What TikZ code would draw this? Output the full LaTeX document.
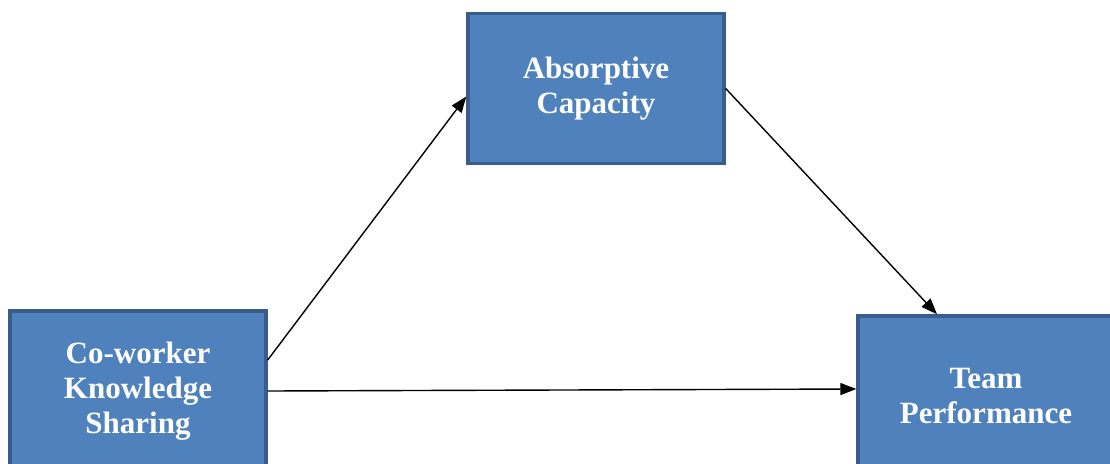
\documentclass[tikz,border=0pt]{standalone}
\usepackage{fontspec}
\setmainfont{Liberation Serif}
\usetikzlibrary{arrows.meta}

\definecolor{boxfill}{HTML}{4F81BD}
\definecolor{boxline}{HTML}{385D8A}

\begin{document}
\begin{tikzpicture}
   [x=0.5pt,y=0.5pt,
   varbox/.style={draw=boxline,fill=boxfill,line width=1.7pt,
     minimum width=128pt,minimum height=75pt,inner sep=0pt,
     align=center,text=white,font=\bfseries\fontsize{15.5}{17.5}\selectfont},
   link/.style={line width=0.7pt,-{Triangle[length=8pt,width=6pt]}}]

   \useasboundingbox (0,0) rectangle (1110,463);
   \begin{scope}
   \clip (0,0) rectangle (1110,463);

   \node[varbox] (ac)  at (596,374.5) {Absorptive\\Capacity};
   \node[varbox,minimum height=80pt] (cks) at (138,72) {Co-worker\\Knowledge\\Sharing};
   \node[varbox,minimum height=80pt] (tp)  at (986,67) {Team\\Performance};

   \draw[link] ([yshift=15.5pt]cks.east) -- ([yshift=-4pt]ac.west);
   \draw[link] (ac.east) -- ([xshift=-24.5pt]tp.north);
   \draw[link] (cks.east) -- ([yshift=3.5pt]tp.west);
   \end{scope}
\end{tikzpicture}
\end{document}
